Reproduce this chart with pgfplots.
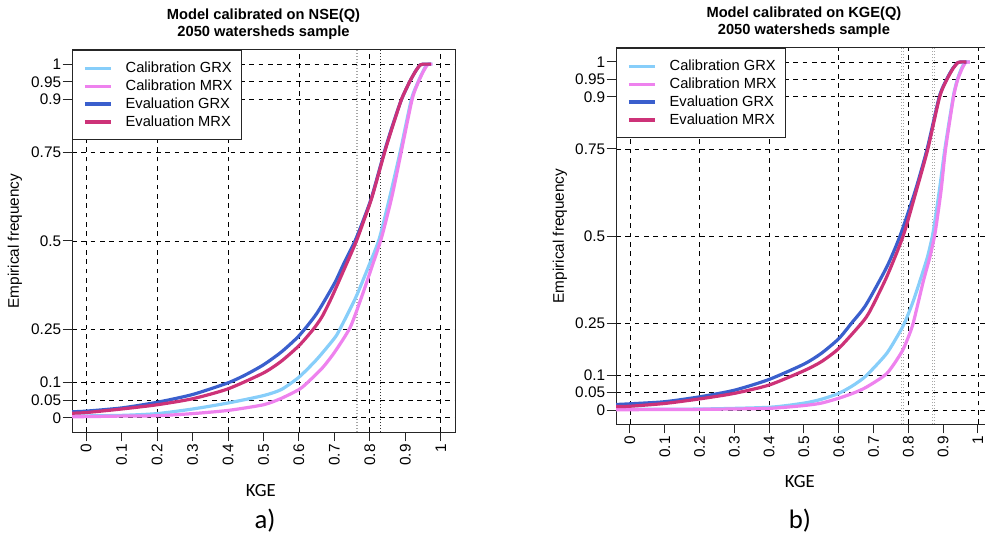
\documentclass[border=0pt]{standalone}
\usepackage{pgfplots}
\pgfplotsset{compat=1.18}
\usepackage{fontspec}
\setmainfont{Liberation Sans}
\newfontfamily\carlito{Carlito}
\definecolor{calgrx}{RGB}{135,206,250}
\definecolor{calmrx}{RGB}{238,130,238}
\definecolor{evagrx}{RGB}{58,95,205}
\definecolor{evamrx}{RGB}{205,50,120}
\pgfplotsset{
  mystyle/.style={
    scale only axis,
    xmin=-0.04, xmax=1.04, ymin=-0.04, ymax=1.04,
    axis line style={black!85, line width=0.75pt},
    tick align=outside, tick pos=left,
    major tick length=7pt,
    tick style={black!85, line width=0.75pt},
    /pgf/number format/assume math mode=true,
    xtick={0,0.1,0.2,0.3,0.4,0.5,0.6,0.7,0.8,0.9,1},
    xticklabels={0,0.1,0.2,0.3,0.4,0.5,0.6,0.7,0.8,0.9,1},
    xticklabel style={rotate=90, anchor=east, font=\fontsize{11.5}{13}\selectfont, inner sep=2pt},
    ytick={0,0.05,0.1,0.25,0.5,0.75,0.9,0.95,1},
    yticklabels={0,0.05,0.1,0.25,0.5,0.75,0.9,0.95,1},
    yticklabel style={font=\fontsize{11.5}{13}\selectfont, inner sep=1pt},
    ymajorgrids,
    extra x ticks={0,0.2,0.4,0.6,0.8,1}, extra x tick labels={},
    extra x tick style={xmajorgrids=true, major tick length=0pt},
    grid style={black, dash pattern=on 3.5pt off 3.5pt, line width=0.6pt},
    title style={font=\bfseries\fontsize{11}{12.75}\selectfont, align=center, at={(0.5,1)}, anchor=center, yshift=13pt},
    ylabel style={at={(axis description cs:-0.149,0.5)}, anchor=center, font=\fontsize{11.5}{13}\selectfont},
    xlabel style={anchor=center, font=\carlito\fontsize{14}{16}\selectfont},
    legend style={at={(0,1)}, anchor=north west, draw=black!85, line width=0.75pt, fill=white,
      inner xsep=5pt, inner ysep=7pt, row sep=1pt, column sep=8pt,
      font=\fontsize{11}{13}\selectfont, nodes={inner sep=1.5pt}, cells={anchor=west}},
    legend cell align=left,
    legend image code/.code={\path (0pt,0pt); \draw[##1] (3pt,0pt) -- (23pt,0pt);},
    every axis plot/.append style={line width=2.4pt, line join=round},
    curve/.style={smooth, tension=0.4},
    med/.style={gray!70, line width=0.75pt, dash pattern=on 0.75pt off 1.5pt, forget plot},
  }
}
\begin{document}
\begin{tikzpicture}
\useasboundingbox (0pt,0pt) rectangle (738.75pt,-403.5pt);
% ---------------- panel a ----------------
\begin{axis}[mystyle, at={(54pt,-324pt)}, anchor=south west, width=287.25pt, height=286.5pt,
  title={Model calibrated on NSE(Q)\\2050 watersheds sample},
  ylabel={Empirical frequency}, xlabel={KGE},
  xlabel style={at={(axis description cs:0.493,-0.152)}}]
\addplot[med] coordinates {(0.761,-0.04) (0.761,1.04)};
\addplot[med] coordinates {(0.765,-0.04) (0.765,1.04)};
\addplot[med, gray!40!black] coordinates {(0.829,-0.04) (0.829,1.04)};
\addplot[calgrx, curve] coordinates {(-0.3,0.001) (-0.04,0.005) (0.1,0.007) (0.2,0.012) (0.3,0.025) (0.4,0.042) (0.5,0.063) (0.55,0.08) (0.6,0.115) (0.65,0.165) (0.7,0.225) (0.715,0.25) (0.76,0.34) (0.795,0.425) (0.826,0.505) (0.855,0.62) (0.885,0.75) (0.917,0.9) (0.936,0.95) (0.95,0.98) (0.96,0.998) (0.966,1.0) (0.976,1.0)};
\addlegendentry{Calibration GRX}
\addplot[calmrx, curve] coordinates {(-0.3,0.001) (-0.04,0.003) (0.1,0.005) (0.2,0.006) (0.3,0.012) (0.4,0.021) (0.5,0.037) (0.55,0.055) (0.6,0.08) (0.62,0.096) (0.665,0.14) (0.7,0.185) (0.744,0.255) (0.776,0.34) (0.805,0.425) (0.833,0.51) (0.862,0.625) (0.888,0.75) (0.919,0.9) (0.937,0.95) (0.951,0.98) (0.962,0.998) (0.968,1.0) (0.976,1.0)};
\addlegendentry{Calibration MRX}
\addplot[evagrx, curve] coordinates {(-0.3,0.003) (-0.15,0.010) (-0.04,0.017) (0.0,0.019) (0.1,0.028) (0.2,0.044) (0.3,0.066) (0.4,0.099) (0.45,0.122) (0.5,0.150) (0.55,0.186) (0.6,0.232) (0.65,0.295) (0.7,0.38) (0.725,0.433) (0.758,0.5) (0.78,0.555) (0.805,0.624) (0.842,0.756) (0.865,0.83) (0.889,0.9) (0.912,0.95) (0.93,0.982) (0.942,0.998) (0.95,1.0) (0.972,1.0)};
\addlegendentry{Evaluation GRX}
\addplot[evamrx, curve] coordinates {(-0.3,0.002) (-0.15,0.008) (-0.04,0.013) (0.0,0.015) (0.1,0.025) (0.2,0.037) (0.3,0.054) (0.4,0.082) (0.5,0.127) (0.55,0.16) (0.6,0.204) (0.64,0.25) (0.665,0.286) (0.692,0.34) (0.734,0.435) (0.762,0.5) (0.782,0.555) (0.806,0.624) (0.843,0.756) (0.866,0.83) (0.889,0.9) (0.912,0.95) (0.93,0.982) (0.942,0.998) (0.95,1.0) (0.972,1.0)};
\addlegendentry{Evaluation MRX}
\end{axis}
% ---------------- panel b ----------------
\begin{axis}[mystyle, at={(462pt,-318pt)}, anchor=south west, width=281.9pt, height=282pt,
  title={Model calibrated on KGE(Q)\\2050 watersheds sample},
  ylabel={Empirical frequency}, xlabel={KGE},
  xlabel style={at={(axis description cs:0.489,-0.152)}}]
\addplot[med] coordinates {(0.779,-0.04) (0.779,1.04)};
\addplot[med] coordinates {(0.785,-0.04) (0.785,1.04)};
\addplot[med] coordinates {(0.869,-0.04) (0.869,1.04)};
\addplot[med] coordinates {(0.876,-0.04) (0.876,1.04)};
\addplot[calgrx, curve] coordinates {(-0.3,0.0) (-0.04,0.002) (0.2,0.003) (0.4,0.008) (0.5,0.02) (0.55,0.031) (0.6,0.048) (0.64,0.07) (0.678,0.098) (0.738,0.163) (0.781,0.234) (0.79,0.252) (0.813,0.31) (0.833,0.37) (0.855,0.44) (0.871,0.51) (0.889,0.63) (0.905,0.75) (0.929,0.9) (0.941,0.95) (0.953,0.982) (0.962,0.998) (0.968,1.0) (0.977,1.0)};
\addlegendentry{Calibration GRX}
\addplot[calmrx, curve] coordinates {(-0.3,0.0) (-0.04,0.001) (0.2,0.002) (0.4,0.005) (0.5,0.013) (0.55,0.02) (0.6,0.034) (0.64,0.048) (0.678,0.065) (0.738,0.105) (0.781,0.167) (0.8,0.21) (0.814,0.25) (0.843,0.37) (0.862,0.44) (0.877,0.51) (0.894,0.63) (0.907,0.75) (0.93,0.9) (0.942,0.95) (0.955,0.982) (0.964,0.998) (0.97,1.0) (0.977,1.0)};
\addlegendentry{Calibration MRX}
\addplot[evagrx, curve] coordinates {(-0.3,0.004) (-0.04,0.016) (0,0.018) (0.1,0.024) (0.2,0.038) (0.3,0.057) (0.4,0.088) (0.5,0.132) (0.55,0.163) (0.6,0.205) (0.637,0.25) (0.678,0.302) (0.738,0.411) (0.776,0.5) (0.819,0.627) (0.854,0.75) (0.889,0.9) (0.91,0.95) (0.928,0.982) (0.942,0.998) (0.95,1.0) (0.967,1.0)};
\addlegendentry{Evaluation GRX}
\addplot[evamrx, curve] coordinates {(-0.3,0.002) (-0.04,0.010) (0,0.011) (0.1,0.019) (0.2,0.032) (0.3,0.048) (0.4,0.072) (0.5,0.113) (0.55,0.139) (0.6,0.177) (0.666,0.25) (0.69,0.285) (0.738,0.383) (0.785,0.5) (0.822,0.627) (0.856,0.75) (0.89,0.9) (0.911,0.95) (0.929,0.982) (0.942,0.998) (0.95,1.0) (0.967,1.0)};
\addlegendentry{Evaluation MRX}
\end{axis}
\node[font=\carlito\fontsize{20}{22}\selectfont] at (198.75pt,-390.75pt) {a)};
\node[font=\carlito\fontsize{20}{22}\selectfont] at (600pt,-390.75pt) {b)};
\end{tikzpicture}
\end{document}
